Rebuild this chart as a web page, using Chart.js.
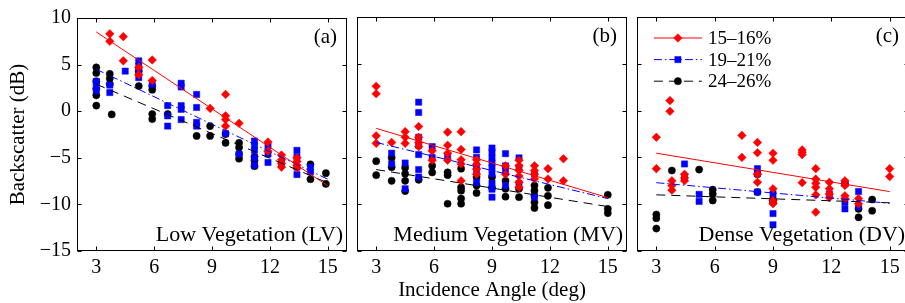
<!DOCTYPE html>
<html>
<head>
<meta charset="utf-8">
<script src="https://cdn.jsdelivr.net/npm/chart.js@4.4.1/dist/chart.umd.min.js"></script>
<style>
html, body { margin:0; padding:0; background:#fff; width:905px; height:303px; overflow:hidden; position:relative; }
canvas { position:absolute; top:0; }
</style>
</head>
<body>
<canvas id="c1" width="352" height="303" style="left:0px"></canvas>
<canvas id="c2" width="280" height="303" style="left:352px"></canvas>
<canvas id="c3" width="282" height="303" style="left:632px"></canvas>
<script>
// series names (soil moisture ranges)
var seriesNames = ["15\u201316%", "19\u201321%", "24\u201326%"];
var xTicks = [3, 6, 9, 12, 15];
var yTicks = [-15, -10, -5, 0, 5, 10];
// fitted lines are evaluated at these two angles
var fitAngles = [3, 15];

// (a) Low Vegetation  [angle (deg), backscatter (dB)]
var lvRed = [[3.7,8.3],[3.7,7.5],[4.4,8.0],[4.4,5.4],[5.2,4.7],[5.2,3.9],[5.9,5.5],[5.9,3.3],
  [8.9,0.3],[9.7,1.8],[9.7,-0.5],[9.7,-0.9],[9.7,-1.6],[10.4,-1.3],[11.9,-3.3],[11.9,-4.3],
  [12.6,-4.7],[12.6,-5.2],[12.6,-5.6],[12.6,-6.0],[13.4,-5.0],[13.4,-5.4],[13.4,-5.8],[13.4,-6.1]];
var lvBlue = [[3,3.2],[3,2.7],[3,2.2],[3.7,2.8],[3.7,2.0],[4.5,4.3],[5.2,5.4],[5.2,4.8],[5.2,4.1],[5.2,3.6],
  [5.9,2.9],[6.7,0.6],[6.7,-0.5],[6.7,-1.6],[7.4,3.0],[7.4,2.6],[7.4,0.6],[7.4,0.2],[7.4,-0.9],
  [8.2,1.8],[8.2,0.4],[8.2,-1.2],[8.2,-1.6],[9.7,-2.4],[10.4,-4.6],[11.2,-3.2],[11.2,-3.7],[11.2,-4.2],
  [11.2,-5.0],[11.2,-5.8],[11.9,-3.7],[11.9,-4.6],[11.9,-5.5],[12.6,-5.6],[13.4,-4.2],[13.4,-4.9],
  [13.4,-6.0],[13.4,-6.8],[14.1,-6.0],[14.1,-6.5]];
var lvBlack = [[3,4.7],[3,4.1],[3,3.2],[3,2.4],[3,1.7],[3,0.6],[3.7,4.0],[3.7,3.5],[3.7,2.9],[3.8,-0.35],
  [5.2,4.3],[5.2,2.7],[5.9,2.7],[5.9,2.3],[5.9,-0.3],[5.9,-0.85],[6.7,-0.3],[8.2,-2.65],[8.9,-1.6],[8.9,-2.65],
  [9.7,-2.45],[9.7,-3.4],[10.4,-3.4],[10.4,-3.9],[10.4,-4.6],[10.4,-5.1],[11.2,-4.9],[11.2,-5.3],[11.2,-5.9],
  [14.1,-5.7],[14.1,-7.3],[14.9,-6.65],[14.9,-7.8]];
var lvFitRed = [8.5, -8.0];
var lvFitBlue = [4.5, -7.3];
var lvFitBlack = [2.9, -7.7];

// (b) Medium Vegetation
var mvRed = [[3,2.6],[3,1.8],[3,-2.7],[3,-3.5],[3.8,-3.4],[4.5,-2.25],[4.5,-2.85],[4.5,-3.5],
  [5.2,-1.7],[5.2,-2.85],[5.2,-3.4],[5.2,-3.85],[5.9,-4.3],[5.9,-5.3],[6.7,-2.3],[6.7,-3.7],[6.7,-4.55],[6.7,-5.3],
  [7.4,-2.25],[7.4,-4.15],[7.4,-5.25],[7.4,-5.7],[7.4,-7.5],[8.2,-5.25],[8.2,-5.75],[8.2,-6.25],[8.2,-6.8],
  [9.7,-5.9],[9.7,-6.8],[10.4,-5.3],[10.4,-5.9],[10.4,-6.4],[10.4,-7.0],[10.4,-7.65],[10.4,-8.2],
  [11.2,-5.9],[11.2,-6.4],[11.2,-6.8],[11.2,-7.3],[11.9,-6.2],[11.9,-7.3],[12.7,-5.15],[12.7,-7.5]];
var mvBlue = [[3.8,-4.55],[3.8,-5.7],[4.5,-5.6],[4.5,-8.35],[5.2,0.9],[5.2,-0.2],[5.2,-2.85],[5.2,-3.7],
  [5.2,-4.7],[5.2,-6.3],[5.2,-7.1],[5.9,-3.85],[5.9,-5.0],[6.7,-4.9],[8.2,-4.2],[8.2,-5.0],[8.2,-5.9],
  [8.2,-6.6],[8.2,-7.65],[9.0,-4.0],[9.0,-4.45],[9.0,-5.05],[9.0,-5.6],[9.0,-6.1],[9.0,-6.75],[9.0,-7.75],
  [9.0,-8.4],[9.0,-9.25],[9.7,-4.6],[9.7,-5.9],[9.7,-6.4],[9.7,-8.0],[10.4,-5.05],[10.4,-6.05],[10.4,-7.8],
  [11.2,-6.75],[11.2,-9.25]];
var mvBlack = [[3,-5.4],[3,-6.9],[3.8,-5.05],[3.8,-6.05],[3.8,-7.5],[4.5,-6.1],[4.5,-6.75],[4.5,-7.5],[4.5,-8.6],
  [5.2,-7.4],[5.9,-5.9],[5.9,-6.6],[6.7,-6.6],[6.7,-6.9],[6.7,-9.95],[7.4,-6.2],[7.4,-8.2],[7.4,-8.55],
  [7.4,-9.4],[7.4,-9.95],[8.2,-7.1],[8.2,-8.0],[8.2,-8.8],[9.0,-7.1],[9.0,-8.25],[9.7,-7.5],[9.7,-8.35],
  [9.7,-9.2],[10.4,-8.35],[10.4,-9.25],[11.2,-8.0],[11.2,-8.55],[11.2,-9.1],[11.2,-9.8],[11.2,-10.4],
  [11.9,-8.25],[11.9,-9.1],[11.9,-10.1],[15,-9.0],[15,-10.5],[15,-10.95]];
var mvFitRed = [-1.9, -9.3];
var mvFitBlue = [-3.4, -9.4];
var mvFitBlack = [-6.3, -10.25];

// (c) Dense Vegetation
var dvRed = [[3,-2.85],[3,-6.2],[3.7,1.07],[3.7,-0.07],[3.8,-7.5],[3.8,-8.0],[3.8,-8.5],[4.45,-6.8],
  [4.45,-7.2],[4.45,-7.5],[7.4,-2.65],[7.4,-5.0],[8.2,-3.4],[8.2,-4.5],[8.2,-6.8],[8.2,-7.65],
  [9.0,-4.55],[9.0,-5.3],[9.0,-8.35],[9.0,-9.6],[9.0,-9.95],[10.5,-4.2],[10.5,-4.45],[10.5,-4.7],[10.5,-7.7],
  [11.2,-6.2],[11.2,-7.3],[11.2,-7.75],[11.2,-8.2],[11.2,-9.0],[11.2,-10.85],[11.9,-7.65],[11.9,-8.35],
  [11.9,-8.9],[11.9,-9.3],[12.7,-7.5],[12.7,-8.0],[12.7,-9.1],[12.7,-9.4],[13.4,-9.4],[13.4,-9.95],
  [15,-6.2],[15,-7.05]];
var dvBlue = [[4.45,-5.7],[4.45,-7.2],[5.2,-8.95],[5.2,-9.7],[8.2,-6.2],[8.2,-6.7],[8.2,-8.7],[9.0,-8.9],
  [9.0,-11.0],[9.0,-12.2],[11.9,-8.9],[12.7,-7.8],[12.7,-9.8],[12.7,-10.5],[13.4,-8.65],[13.4,-10.25]];
var dvBlack = [[3,-11.1],[3,-11.5],[3,-12.6],[3.8,-6.4],[5.2,-6.3],[5.9,-8.45],[5.9,-8.9],[5.9,-9.6],
  [8.2,-6.8],[8.2,-8.7],[9.0,-9.5],[9.0,-9.8],[12.7,-7.8],[13.4,-10.5],[13.4,-11.4],[14.1,-9.5],[14.1,-10.7]];
var dvFitRed = [-4.55, -8.65];
var dvFitBlue = [-7.7, -9.9];
var dvFitBlack = [-9.0, -9.85];

var serif = "'Liberation Serif', 'Times New Roman', serif";
var styles = [
  {color: '#ff0000', point: 'rectRot', r: 4.3, dash: []},
  {color: '#0000ff', point: 'rect', r: 4.4, dash: [8, 3, 1.5, 3]},
  {color: '#000000', point: 'circle', r: 3.6, dash: [9, 6]}
];

function pts(arr) { return arr.map(function(p){ return {x: p[0], y: p[1]}; }); }

function buildDatasets(points, fits) {
  var ds = [];
  // fitted lines first so they sit on top
  fits.forEach(function(f, i) {
    ds.push({type: 'line', label: seriesNames[i] + ' fit',
      data: fitAngles.map(function(a, k){ return {x: a, y: f[k]}; }),
      borderColor: styles[i].color, borderWidth: 1, borderDash: styles[i].dash,
      pointRadius: 0, fill: false, tension: 0});
  });
  points.forEach(function(p, i) {
    ds.push({type: 'scatter', label: seriesNames[i], data: pts(p),
      pointStyle: styles[i].point, pointRadius: styles[i].r,
      backgroundColor: styles[i].color, borderColor: styles[i].color, borderWidth: 0.5});
  });
  return ds;
}

var framePlugin = {
  id: 'frame',
  afterDatasetsDraw: function(chart, args, o) {
    var ctx = chart.ctx, a = chart.chartArea;
    var xs = chart.scales.x, ys = chart.scales.y;
    var L = Math.round(a.left) + 0.5, R = Math.round(a.right) - 0.5;
    var T = Math.round(a.top) + 0.5, B = Math.round(a.bottom) - 0.5;
    ctx.save();
    ctx.strokeStyle = '#000';
    ctx.lineWidth = 1;
    ctx.setLineDash([]);
    ctx.strokeRect(L, T, R - L, B - T);
    var tl = 4;
    ctx.beginPath();
    xs.ticks.forEach(function(t) {
      var px = Math.round(xs.getPixelForValue(t.value)) + 0.5;
      ctx.moveTo(px, B); ctx.lineTo(px, B - tl);
      ctx.moveTo(px, T); ctx.lineTo(px, T + tl);
    });
    ys.ticks.forEach(function(t) {
      var py = Math.round(ys.getPixelForValue(t.value)) + 0.5;
      ctx.moveTo(L, py); ctx.lineTo(L + tl, py);
      ctx.moveTo(R, py); ctx.lineTo(R - tl, py);
    });
    ctx.stroke();

    ctx.fillStyle = '#000';
    ctx.font = '21px ' + serif;
    ctx.textAlign = 'right';
    ctx.textBaseline = 'middle';
    ctx.fillText(o.tag, a.right - 10, a.top + 19);
    ctx.font = '22px ' + serif;
    ctx.textBaseline = 'alphabetic';
    ctx.fillText(o.name, a.right - 4, a.bottom - 10);

    if (o.legend) {
      ctx.font = '19px ' + serif;
      ctx.textAlign = 'left';
      ctx.textBaseline = 'middle';
      styles.forEach(function(s, i) {
        var y = a.top + 21 + i * 21.6;
        var x0 = a.left + 17, x1 = a.left + 65;
        ctx.strokeStyle = s.color;
        ctx.lineWidth = 1;
        ctx.setLineDash(s.dash);
        ctx.beginPath(); ctx.moveTo(x0, y); ctx.lineTo(x1, y); ctx.stroke();
        ctx.setLineDash([]);
        ctx.fillStyle = s.color;
        ctx.lineWidth = 0.5;
        Chart.helpers.drawPoint(ctx, {pointStyle: s.point, radius: s.r, borderWidth: 0.5}, (x0 + x1) / 2, y);
        ctx.fillStyle = '#000';
        ctx.fillText(seriesNames[i], a.left + 71, y + 1);
      });
    }
    ctx.restore();
  }
};

function makePanel(id, points, fits, cfg) {
  var tickFont = {family: serif, size: 20};
  var ctx = document.getElementById(id).getContext('2d');
  return new Chart(ctx, {
    type: 'scatter',
    data: {datasets: buildDatasets(points, fits)},
    plugins: [framePlugin],
    options: {
      responsive: false,
      animation: false,
      events: [],
      layout: {padding: cfg.padding},
      plugins: {
        legend: {display: false},
        tooltip: {enabled: false},
        frame: {tag: cfg.tag, name: cfg.name, legend: cfg.legend}
      },
      scales: {
        x: {
          type: 'linear', min: 2, max: 16,
          afterBuildTicks: function(s) { s.ticks = xTicks.map(function(v){ return {value: v}; }); },
          grid: {display: false, drawTicks: false},
          border: {display: false},
          ticks: {color: '#000', font: tickFont, padding: 5, maxRotation: 0, autoSkip: false},
          title: {display: cfg.xTitle, text: 'Incidence Angle (deg)', color: '#000',
            font: {family: serif, size: 21, lineHeight: 1.2}, padding: {top: 0, bottom: 0}},
          afterFit: function(s) { s.height = 52; }
        },
        y: {
          type: 'linear', min: -15, max: 10,
          afterBuildTicks: function(s) { s.ticks = yTicks.map(function(v){ return {value: v}; }); },
          grid: {display: false, drawTicks: false},
          border: {display: false},
          ticks: {display: cfg.yLabels, color: '#000', font: tickFont, padding: 6,
            callback: function(v) { return String(v).replace('-', '\u2212'); }},
          title: {display: cfg.yLabels, text: 'Backscatter (dB)', color: '#000',
            font: {family: serif, size: 21, lineHeight: 1.2}, padding: {top: 6, bottom: 0}},
          afterFit: function(s) { s.width = cfg.yWidth; }
        }
      }
    }
  });
}

window.onload = function() {
  makePanel('c1', [lvRed, lvBlue, lvBlack], [lvFitRed, lvFitBlue, lvFitBlack],
    {tag: '(a)', name: 'Low Vegetation (LV)', legend: false, xTitle: false, yLabels: true, yWidth: 77,
     padding: {left: 0, right: 3, top: 17, bottom: 0}});
  makePanel('c2', [mvRed, mvBlue, mvBlack], [mvFitRed, mvFitBlue, mvFitBlack],
    {tag: '(b)', name: 'Medium Vegetation (MV)', legend: false, xTitle: true, yLabels: false, yWidth: 0,
     padding: {left: 3.7, right: 2.7, top: 17, bottom: 0}});
  makePanel('c3', [dvRed, dvBlue, dvBlack], [dvFitRed, dvFitBlue, dvFitBlack],
    {tag: '(c)', name: 'Dense Vegetation (DV)', legend: true, xTitle: false, yLabels: false, yWidth: 0,
     padding: {left: 3.7, right: 4, top: 17, bottom: 0}});
};
</script>
</body>
</html>
